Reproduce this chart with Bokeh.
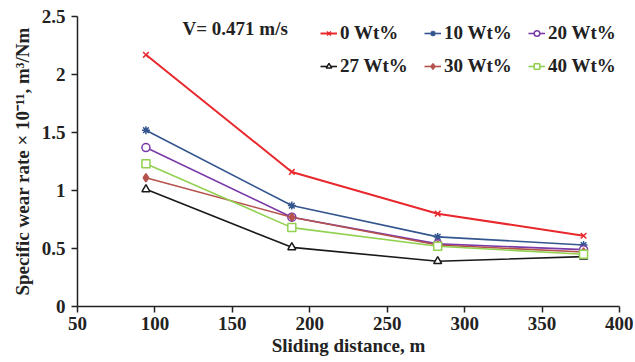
from bokeh.plotting import figure
from bokeh.models import Range1d, FixedTicker, NumeralTickFormatter, Label, Legend, LegendItem
from bokeh.embed import file_html
from bokeh.resources import INLINE

distance = [94.2, 188.4, 282.6, 376.8]
wt0 = [2.17, 1.16, 0.80, 0.61]
wt10 = [1.52, 0.87, 0.60, 0.53]
wt20 = [1.37, 0.77, 0.54, 0.49]
wt27 = [1.01, 0.51, 0.39, 0.43]
wt30 = [1.11, 0.77, 0.53, 0.47]
wt40 = [1.23, 0.68, 0.52, 0.45]
labels = ["0 Wt%", "10 Wt%", "20 Wt%", "27 Wt%", "30 Wt%", "40 Wt%"]
x_ticks = [50, 100, 150, 200, 250, 300, 350, 400]
y_ticks = [0, 0.5, 1, 1.5, 2, 2.5]

FONT = "Liberation Serif"

p = figure(width=633, height=358, output_backend="svg", toolbar_location=None,
           x_range=Range1d(50, 400), y_range=Range1d(0, 2.5),
           min_border_left=77, min_border_right=14, min_border_top=16, min_border_bottom=50)
p.outline_line_color = None
p.xgrid.visible = False
p.ygrid.visible = False

for ax in (p.xaxis[0], p.yaxis[0]):
    ax.axis_line_color = "#222222"
    ax.axis_line_width = 1.5
    ax.major_tick_line_color = "#222222"
    ax.major_tick_line_width = 1.5
    ax.major_tick_in = 0
    ax.major_tick_out = 6
    ax.minor_tick_line_color = None
    ax.major_label_text_font = FONT
    ax.major_label_text_font_style = "bold"
    ax.major_label_text_font_size = "19px"
    ax.major_label_text_color = "#222222"
    ax.axis_label_text_font = FONT
    ax.axis_label_text_font_style = "bold"
    ax.axis_label_text_font_size = "19px"
    ax.axis_label_text_color = "#222222"

p.xaxis.ticker = FixedTicker(ticks=x_ticks)
p.yaxis.ticker = FixedTicker(ticks=y_ticks)
p.yaxis.formatter = NumeralTickFormatter(format="0.[0]")
p.xaxis.axis_label = "Sliding distance, m"
p.yaxis.axis_label = "Specific wear rate \u00d7 10\u207b\u00b9\u00b9, m\u00b3/Nm"
p.xaxis.axis_label_standoff = 2
p.yaxis.axis_label_standoff = 6
p.xaxis.major_label_standoff = 4
p.yaxis.major_label_standoff = 6

series = [
    (wt0, "#e8282c", "x", "#e8282c", 2.0),
    (wt10, "#34568f", "asterisk", "#34568f", 1.6),
    (wt20, "#7a3aa8", "circle", "white", 1.6),
    (wt27, "#1a1a1a", "triangle", "white", 1.6),
    (wt30, "#b5524c", "diamond", "#b5524c", 1.6),
    (wt40, "#92d050", "square", "white", 1.6),
]

items = {}
for (vals, color, marker, fill, lw), lab in zip(series, labels):
    r1 = p.line(distance, vals, line_color=color, line_width=lw)
    r2 = p.scatter(distance, vals, marker=marker, size=8, line_color=color,
                   fill_color=fill, line_width=1.5)
    items[lab] = LegendItem(label=lab, renderers=[r1, r2])

# legend fills column by column; order so rows read 0/10/20 and 27/30/40
order = ["0 Wt%", "27 Wt%", "10 Wt%", "30 Wt%", "20 Wt%", "40 Wt%"]
legend = Legend(items=[items[k] for k in order], ncols=3, location=(243, 225),
                label_text_font=FONT, label_text_font_style="bold",
                label_text_font_size="19px", label_text_color="#222222",
                glyph_width=17, glyph_height=14, label_standoff=3,
                label_height=30, label_width=81, spacing=3, padding=0, margin=0,
                border_line_color=None, background_fill_alpha=0)
p.add_layout(legend, "center")

p.add_layout(Label(x=105, y=278, x_units="screen", y_units="screen",
                   text="V= 0.471 m/s", text_font=FONT, text_font_style="bold",
                   text_font_size="19px", text_color="#222222",
                   text_baseline="middle"))

open("out.html", "w").write(file_html(p, INLINE))
